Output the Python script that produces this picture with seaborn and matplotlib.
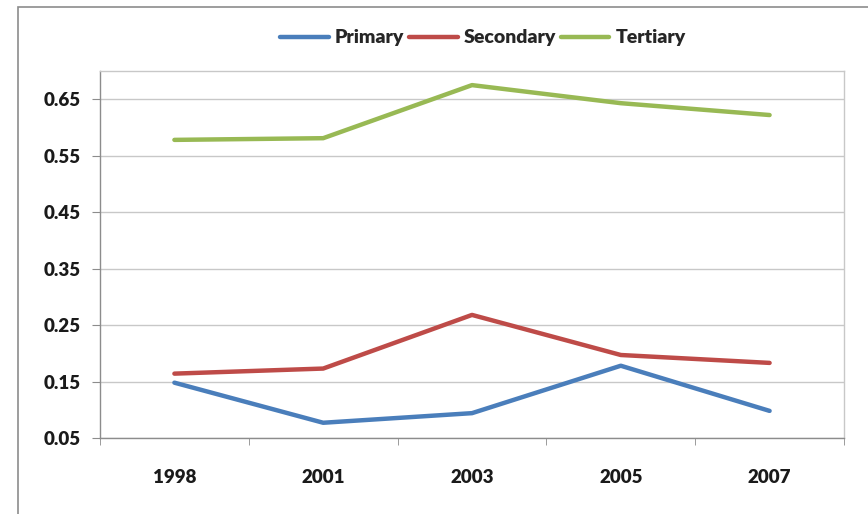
import pandas as pd
import matplotlib.pyplot as plt
import seaborn as sns
from matplotlib.patches import Rectangle
from matplotlib.ticker import FixedLocator

years = ['1998', '2001', '2003', '2005', '2007']
primary = [0.148, 0.077, 0.094, 0.178, 0.098]
secondary = [0.164, 0.173, 0.268, 0.197, 0.183]
tertiary = [0.578, 0.581, 0.675, 0.643, 0.622]
series_names = ['Primary', 'Secondary', 'Tertiary']
y_ticks = [0.05, 0.15, 0.25, 0.35, 0.45, 0.55, 0.65]

df = pd.DataFrame({
    'year': years * 3,
    'value': primary + secondary + tertiary,
    'level': [n for n in series_names for _ in years],
})

sns.set_style('white')
plt.rcParams['font.family'] = ['Lato', 'DejaVu Sans']

colors = {'Primary': '#4A7EBB', 'Secondary': '#BE4B48', 'Tertiary': '#98B954'}

fig = plt.figure(figsize=(8.68, 5.14), dpi=100)
ax = fig.add_axes([100 / 868, 1 - 438 / 514, 744 / 868, 367 / 514])

# outer chart frame
fig.patches.append(Rectangle((18 / 868, -0.05), 1.0, 1 - 7 / 514 + 0.05,
                             transform=fig.transFigure, fill=False,
                             edgecolor='#8C8C8C', linewidth=1.2))

sns.lineplot(data=df, x='year', y='value', hue='level', hue_order=series_names,
             palette=colors, linewidth=3.2, ax=ax, sort=False)

ax.set_xlim(-0.5, len(years) - 0.5)
ax.set_ylim(0.05, 0.70)
ax.set_yticks(y_ticks)
ax.set_yticklabels([f'{v:.2f}' for v in y_ticks])
ax.yaxis.grid(True, color='#C8C8C8', linewidth=1)
ax.set_axisbelow(True)

ax.set_xticks(range(len(years)))
ax.set_xticklabels(years)
ax.xaxis.set_minor_locator(FixedLocator([i - 0.5 for i in range(len(years) + 1)]))
ax.tick_params(axis='x', which='major', length=0, pad=22)
ax.tick_params(axis='x', which='minor', length=5, color='#8C8C8C', direction='out', bottom=True)
ax.tick_params(axis='y', length=6, color='#8C8C8C', direction='out', left=True, pad=8)

for lab in ax.get_xticklabels() + ax.get_yticklabels():
    lab.set_fontweight('heavy')
    lab.set_fontsize(13.5)
    lab.set_color('#1A1A1A')

for side in ['top', 'right']:
    ax.spines[side].set_color('#C8C8C8')
for side in ['left', 'bottom']:
    ax.spines[side].set_color('#8C8C8C')
for s in ax.spines.values():
    s.set_linewidth(1)

ax.set_xlabel('')
ax.set_ylabel('')

handles, labels = ax.get_legend_handles_labels()
ax.get_legend().remove()
leg = fig.legend(handles, labels, loc='center', bbox_to_anchor=(483 / 868, 1 - 38 / 514),
                 ncol=3, frameon=False, handlelength=2.5, handletextpad=0.3,
                 columnspacing=0.25, prop={'weight': 'heavy', 'size': 14})

fig.savefig('out.png', dpi=100)
